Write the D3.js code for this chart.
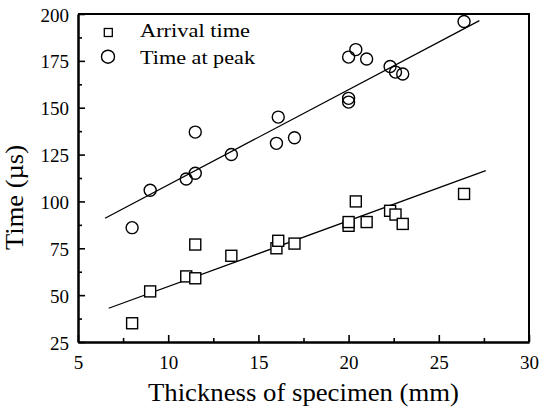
<!DOCTYPE html>
<html>
<head>
<meta charset="utf-8">
<script src="https://cdn.jsdelivr.net/npm/d3@7"></script>
<style>
  body { margin: 0; background: #fff; }
  svg text { font-family: "Liberation Serif", "DejaVu Serif", serif; fill: #000; }
</style>
</head>
<body>
<script>
// Data
const arrivalX = [8.0, 9.0, 11.0, 11.5, 11.5, 13.5, 16.0, 16.1, 17.0, 20.0, 20.0, 20.4, 21.0, 22.3, 22.6, 23.0, 26.4];
const arrivalY = [35, 52, 60, 59, 77, 71, 75, 79, 77.5, 87, 89, 100, 89, 95, 93, 88, 104];
const peakX = [8.0, 9.0, 11.0, 11.5, 11.5, 13.5, 16.0, 16.1, 17.0, 20.0, 20.0, 20.0, 20.4, 21.0, 22.3, 22.6, 23.0, 26.4];
const peakY = [86, 106, 112, 115, 137, 125, 131, 145, 134, 153, 155, 177, 181, 176, 172, 169, 168, 196];
// fitted lines (end points)
const arrivalFitX = [6.7, 27.6];
const arrivalFitY = [43, 116.4];
const peakFitX = [6.5, 27.25];
const peakFitY = [91, 196.5];
const xTicks = [5, 10, 15, 20, 25, 30];
const yTicks = [25, 50, 75, 100, 125, 150, 175, 200];
const legendLabels = ["Arrival time", "Time at peak"];

// Parameters
const w = 540;
const h = 411;
const mLeft = 78, mRight = 529, mTop = 14, mBottom = 342;
const serif = "'Liberation Serif', 'DejaVu Serif', serif";

const svg = d3.select("body").append("svg").attr("width", w).attr("height", h);

const xScale = d3.scaleLinear().domain([5, 30]).range([mLeft, mRight]);
const yScale = d3.scaleLinear().domain([25, 200]).range([mBottom, mTop]);

// minor ticks at the midpoints
const xMinor = xTicks.slice(0, -1).map((d) => d + 2.5);
const yMinor = yTicks.slice(0, -1).map((d) => d + 12.5);

// X axis (ticks pointing inward)
const xAxis = svg.append("g").attr("transform", "translate(0," + mBottom + ")");
xAxis.call(d3.axisBottom(xScale).tickValues(xTicks).tickSize(-7).tickSizeOuter(0).tickFormat(d3.format("d")));
xAxis.append("g").call(d3.axisBottom(xScale).tickValues(xMinor).tickSize(-4).tickSizeOuter(0).tickFormat(""));

// Y axis
const yAxis = svg.append("g").attr("transform", "translate(" + mLeft + ",0)");
yAxis.call(d3.axisLeft(yScale).tickValues(yTicks).tickSize(-7).tickSizeOuter(0).tickFormat(d3.format("d")));
yAxis.append("g").call(d3.axisLeft(yScale).tickValues(yMinor).tickSize(-4).tickSizeOuter(0).tickFormat(""));

svg.selectAll("g").attr("font-family", serif);
svg.selectAll(".domain").attr("stroke", "#000").attr("stroke-width", 2);
svg.selectAll(".tick line").attr("stroke", "#000").attr("stroke-width", 1.6);
svg.selectAll(".tick text").style("font-size", "19px").style("font-family", serif).attr("fill", "#000");
xAxis.selectAll(".tick text").attr("y", 10).attr("dy", "0.88em");
yAxis.selectAll(".tick text").attr("x", -9).attr("dy", "0.37em");

// frame top and right
svg.append("path")
  .attr("d", "M" + mLeft + "," + mTop + "H" + mRight + "V" + mBottom)
  .attr("fill", "none")
  .attr("stroke", "#000")
  .attr("stroke-width", 2);

// Axis titles
svg.append("text")
  .attr("x", 303.5)
  .attr("y", 401)
  .attr("text-anchor", "middle")
  .attr("textLength", 311)
  .attr("lengthAdjust", "spacingAndGlyphs")
  .style("font-size", "25px")
  .text("Thickness of specimen (mm)");

svg.append("text")
  .attr("transform", "translate(23,197.5) rotate(-90)")
  .attr("text-anchor", "middle")
  .attr("textLength", 105)
  .attr("lengthAdjust", "spacingAndGlyphs")
  .style("font-size", "25px")
  .text("Time (\u00b5s)");

// Fit lines
const line = d3.line().x((d) => xScale(d[0])).y((d) => yScale(d[1]));
svg.append("path")
  .datum(d3.zip(arrivalFitX, arrivalFitY))
  .attr("d", line)
  .attr("fill", "none")
  .attr("stroke", "#000")
  .attr("stroke-width", 1.3);
svg.append("path")
  .datum(d3.zip(peakFitX, peakFitY))
  .attr("d", line)
  .attr("fill", "none")
  .attr("stroke", "#000")
  .attr("stroke-width", 1.3);

// Markers
const sq = 11;
svg.selectAll(".arrival")
  .data(d3.zip(arrivalX, arrivalY))
  .enter()
  .append("rect")
  .attr("class", "arrival")
  .attr("x", (d) => xScale(d[0]) - sq / 2)
  .attr("y", (d) => yScale(d[1]) - sq / 2)
  .attr("width", sq)
  .attr("height", sq)
  .attr("fill", "#fff")
  .attr("stroke", "#000")
  .attr("stroke-width", 1.4);

svg.selectAll(".peak")
  .data(d3.zip(peakX, peakY))
  .enter()
  .append("circle")
  .attr("class", "peak")
  .attr("cx", (d) => xScale(d[0]))
  .attr("cy", (d) => yScale(d[1]))
  .attr("r", 6)
  .attr("fill", "none")
  .attr("stroke", "#000")
  .attr("stroke-width", 1.4);

// Legend
const legend = svg.append("g");
legend.append("rect")
  .attr("x", 104.3).attr("y", 28.5)
  .attr("width", 8).attr("height", 8)
  .attr("fill", "none").attr("stroke", "#000").attr("stroke-width", 1.3);
legend.append("circle")
  .attr("cx", 108).attr("cy", 56.7).attr("r", 6.5)
  .attr("fill", "none").attr("stroke", "#000").attr("stroke-width", 1.4);
legend.append("text")
  .attr("x", 140).attr("y", 37)
  .attr("textLength", 110).attr("lengthAdjust", "spacingAndGlyphs")
  .style("font-size", "19px")
  .text(legendLabels[0]);
legend.append("text")
  .attr("x", 140).attr("y", 64)
  .attr("textLength", 115).attr("lengthAdjust", "spacingAndGlyphs")
  .style("font-size", "19px")
  .text(legendLabels[1]);
</script>
</body>
</html>
